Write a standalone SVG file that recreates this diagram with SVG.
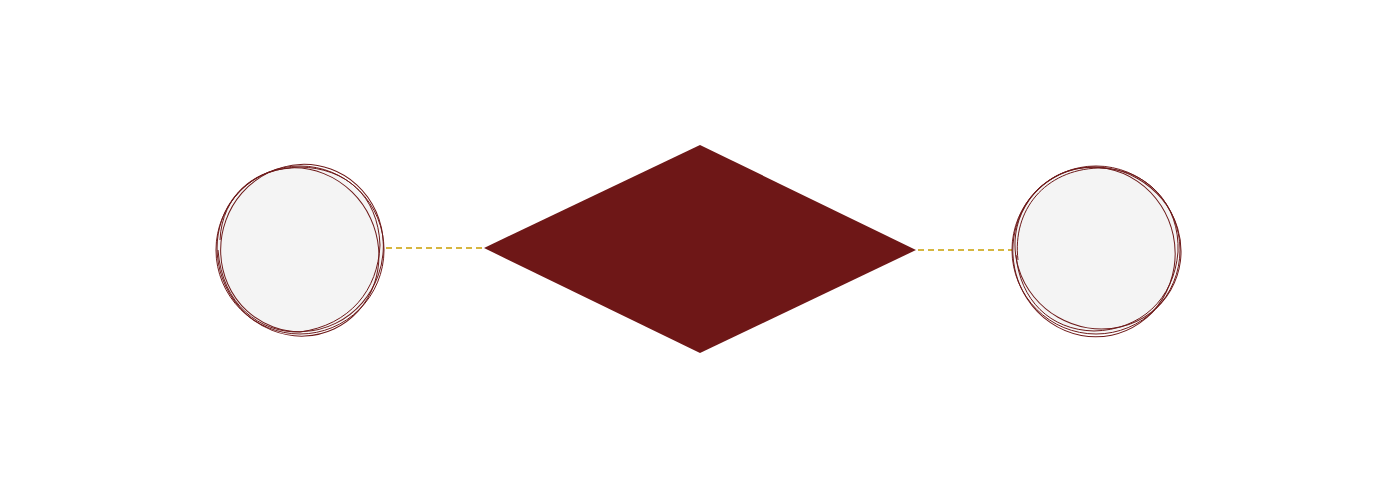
<svg xmlns="http://www.w3.org/2000/svg" width="1400" height="500" viewBox="0 0 1400 500">
<style>
.fill{fill:#f4f4f4;stroke:none}
.sk{fill:none;stroke:#6e1a1a;stroke-width:1}
.conn{stroke:#d6b640;stroke-width:1.8;stroke-dasharray:6 4;fill:none}
</style>
<rect width="1400" height="500" fill="#ffffff"/>
<g id="connectors">
<line class="conn" x1="386" y1="248" x2="484" y2="248"/>
<line class="conn" x1="918" y1="250" x2="1012" y2="250"/>
</g>
<g id="node-left">
<circle class="fill" cx="300" cy="250" r="83"/>
<ellipse class="sk" cx="300" cy="250" rx="84" ry="84"/>
<ellipse class="sk" cx="302" cy="248" rx="81" ry="84" transform="rotate(20 302 248)"/>
<ellipse class="sk" cx="298" cy="252" rx="80" ry="85" transform="rotate(-25 298 252)"/>
<path class="sk" d="M220,240 C222,195 255,168 300,167 C345,168 378,195 380,245 C378,290 350,325 300,332 C260,333 222,305 218,250"/>
</g>
<g id="node-diamond">
<polygon points="484,248 700,145 916,250 700,353" fill="#6e1717"/>
</g>
<g id="node-right">
<circle class="fill" cx="1096" cy="250" r="83"/>
<ellipse class="sk" cx="1096" cy="250" rx="84" ry="84"/>
<ellipse class="sk" cx="1098" cy="248" rx="84" ry="80" transform="rotate(30 1098 248)"/>
<ellipse class="sk" cx="1094" cy="252" rx="81" ry="85" transform="rotate(-12 1094 252)"/>
<path class="sk" d="M1018,260 C1012,210 1045,170 1098,168 C1148,168 1180,205 1178,252 C1174,300 1140,330 1094,331 C1050,330 1020,300 1016,255"/>
</g>
</svg>
